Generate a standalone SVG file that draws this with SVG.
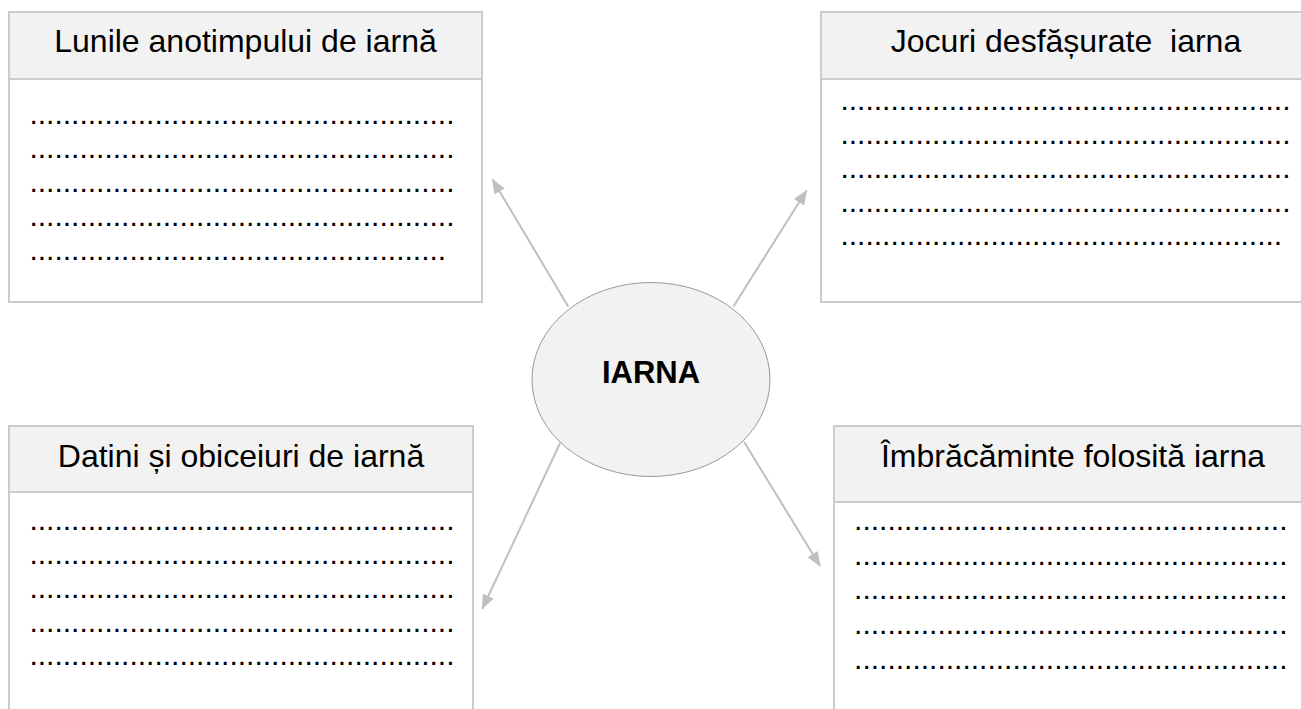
<svg xmlns="http://www.w3.org/2000/svg" width="1301" height="709" viewBox="0 0 1301 709">
<style>
.box{fill:#ffffff;stroke:#cccccc;stroke-width:2}
.hdr{fill:#f2f2f2;stroke:#cccccc;stroke-width:2}
.title{font-family:"Liberation Sans",Arial,sans-serif;font-size:32px;fill:#000;text-anchor:middle;white-space:pre}
.dots{font-family:"Liberation Sans",Arial,sans-serif;font-size:30px;fill:#000}
.conn{stroke:#bfbfbf;stroke-width:2;fill:none;marker-end:url(#ah)}
.center{fill:#f2f2f2;stroke:#999999;stroke-width:1}
.ctext{font-family:"Liberation Sans",Arial,sans-serif;font-size:31px;font-weight:bold;fill:#000;text-anchor:middle}
</style>
<defs>
<marker id="ah" markerUnits="userSpaceOnUse" markerWidth="16" markerHeight="14" refX="14" refY="6" orient="auto">
<path d="M0,0 L15,6 L0,12 z" fill="#bfbfbf"/>
</marker>
</defs>
<rect width="1301" height="709" fill="#ffffff"/>

<g id="connectors">
<line class="conn" x1="568.3" y1="306.7" x2="492.5" y2="179.5"/>
<line class="conn" x1="733.3" y1="306.7" x2="806.5" y2="190.5"/>
<line class="conn" x1="560" y1="443.3" x2="482.3" y2="608.7"/>
<line class="conn" x1="744" y1="441.7" x2="820" y2="566"/>
</g>

<g id="box-lunile">
<rect class="box" x="9" y="12" width="473" height="290"/>
<rect class="hdr" x="9" y="12" width="473" height="67"/>
<text class="title" x="245.5" y="52">Lunile anotimpului de iarnă</text>
<text class="dots" x="29.4" y="123.5">...................................................</text>
<text class="dots" x="29.4" y="157.5">...................................................</text>
<text class="dots" x="29.4" y="191.5">...................................................</text>
<text class="dots" x="29.4" y="225.5">...................................................</text>
<text class="dots" x="29.4" y="259.5">..................................................</text>
</g>

<g id="box-jocuri">
<rect class="box" x="821" y="12" width="490" height="290"/>
<rect class="hdr" x="821" y="12" width="490" height="67"/>
<text class="title" x="1066" y="52" xml:space="preserve">Jocuri desfășurate  iarna</text>
<text class="dots" x="840.4" y="109.5">......................................................</text>
<text class="dots" x="840.4" y="143.5">......................................................</text>
<text class="dots" x="840.4" y="177.5">......................................................</text>
<text class="dots" x="840.4" y="211.5">......................................................</text>
<text class="dots" x="840.4" y="245">.....................................................</text>
</g>

<g id="box-datini">
<rect class="box" x="9" y="426" width="464" height="300"/>
<rect class="hdr" x="9" y="426" width="464" height="66"/>
<text class="title" x="241" y="466.7">Datini și obiceiuri de iarnă</text>
<text class="dots" x="29.4" y="529.5">...................................................</text>
<text class="dots" x="29.4" y="563.5">...................................................</text>
<text class="dots" x="29.4" y="597.5">...................................................</text>
<text class="dots" x="29.4" y="631.5">...................................................</text>
<text class="dots" x="29.4" y="665">...................................................</text>
</g>

<g id="box-imbracaminte">
<rect class="box" x="834" y="426" width="478" height="300"/>
<rect class="hdr" x="834" y="426" width="478" height="76"/>
<text class="title" x="1073" y="466.7">Îmbrăcăminte folosită iarna</text>
<text class="dots" x="854.1" y="529.5">....................................................</text>
<text class="dots" x="854.1" y="565">....................................................</text>
<text class="dots" x="854.1" y="598.5">....................................................</text>
<text class="dots" x="854.1" y="633.5">....................................................</text>
<text class="dots" x="854.1" y="668.5">....................................................</text>
</g>

<g id="center-iarna">
<ellipse class="center" cx="651" cy="379.5" rx="119" ry="97"/>
<text class="ctext" x="651" y="382.7">IARNA</text>
</g>
</svg>
